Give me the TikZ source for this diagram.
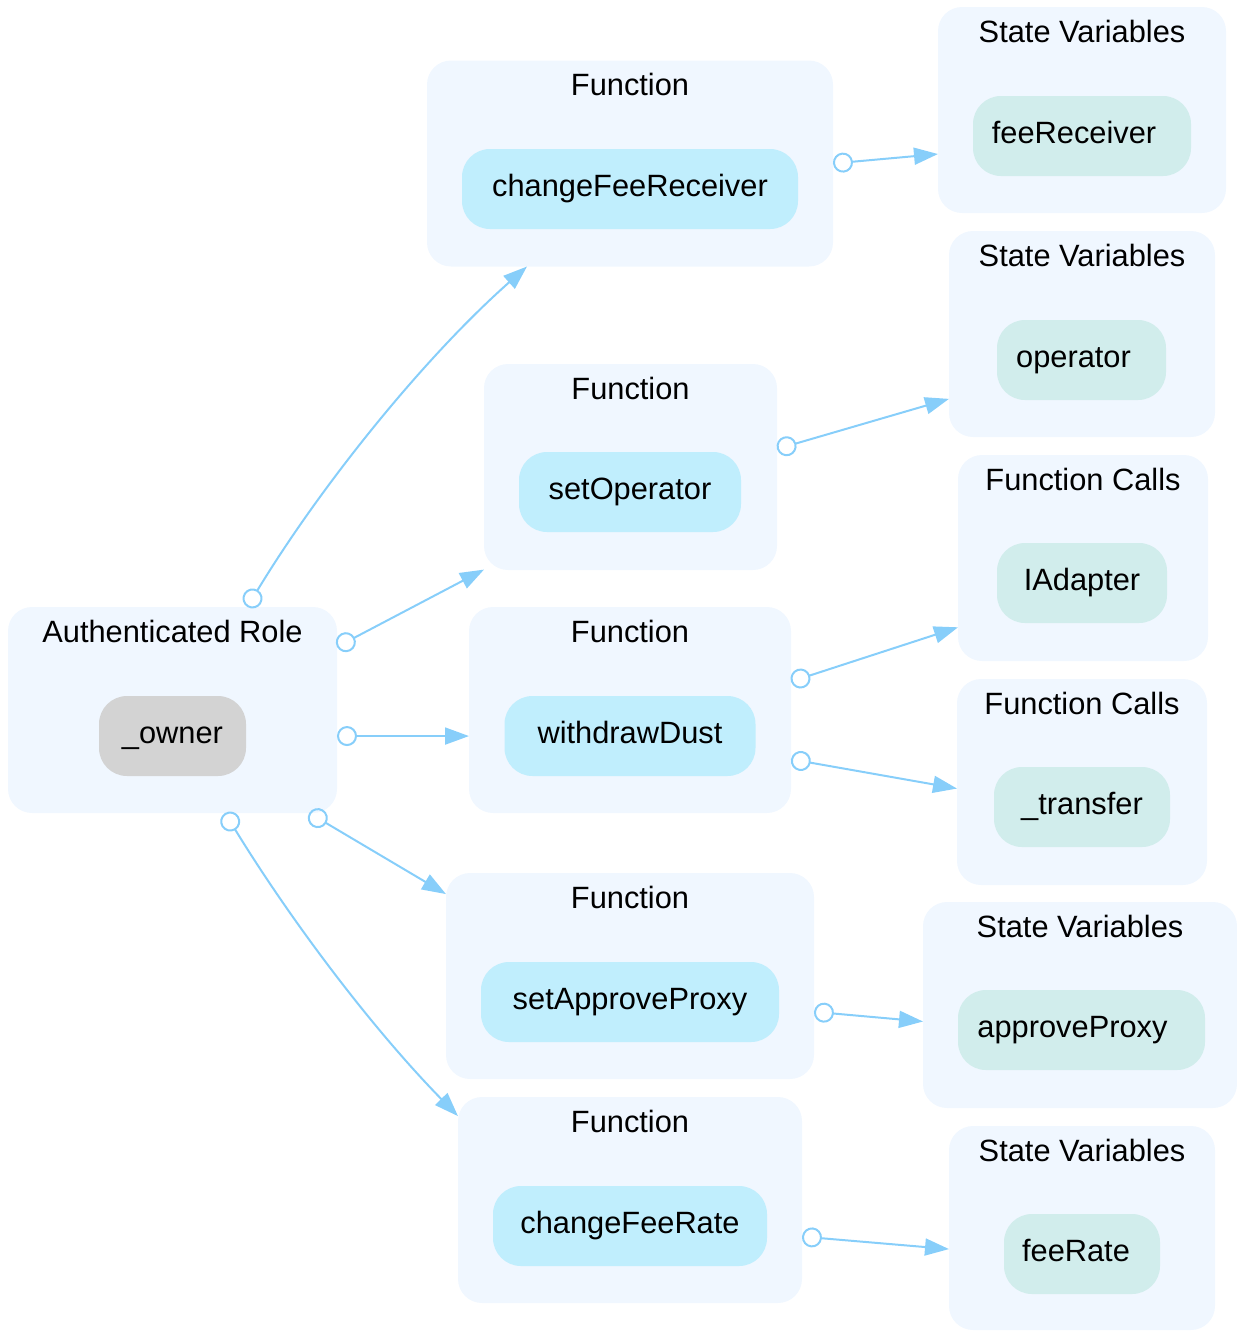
\documentclass[tikz,border=0pt]{standalone}
\usepackage{fontspec}
\setmainfont{Liberation Sans}
\usetikzlibrary{arrows.meta}
\definecolor{clusterbg}{HTML}{F0F7FF}
\definecolor{fnfill}{HTML}{C0EEFD}
\definecolor{varfill}{HTML}{D1EDEC}
\definecolor{ownerfill}{HTML}{D3D3D3}
\definecolor{linkblue}{HTML}{87CEFA}
\tikzstyle{cluster}=[rectangle, rounded corners=24pt, fill=clusterbg, inner sep=0pt, outer sep=0pt, minimum height=206pt]
\tikzstyle{caption}=[anchor=base, inner sep=0pt]
\tikzstyle{member}=[rectangle, rounded corners=28pt, minimum height=80pt, inner sep=0pt, outer sep=0pt, text height=22pt, text depth=7pt]
\tikzstyle{fn}=[member, fill=fnfill]
\tikzstyle{var}=[member, fill=varfill]
\tikzstyle{owner}=[member, fill=ownerfill]
\tikzstyle{link}=[linkblue, line width=2pt, arrows={Circle[open,length=20pt,width=20pt]-Triangle[length=24pt,width=17pt]}]

\begin{document}
\begin{tikzpicture}[x=1pt, y=-1pt, every node/.style={font=\fontsize{30.8}{37}\selectfont}]
    \useasboundingbox (0,0) rectangle (1237,1331);
    % boxes round each group
    \node[cluster, minimum width=329pt] (role) at (172.5,710) {};
    \node[cluster, minimum width=406pt] (fn1) at (630,163.5) {};
    \node[cluster, minimum width=293pt] (fn2) at (630.5,467) {};
    \node[cluster, minimum width=322pt] (fn3) at (630,710) {};
    \node[cluster, minimum width=368pt] (fn4) at (630,976) {};
    \node[cluster, minimum width=344pt] (fn5) at (630,1200) {};
    \node[cluster, minimum width=288pt] (var1) at (1082,110) {};
    \node[cluster, minimum width=266pt] (var2) at (1082,334) {};
    \node[cluster, minimum width=250pt] (call1) at (1083,558) {};
    \node[cluster, minimum width=250pt] (call2) at (1082,782) {};
    \node[cluster, minimum width=314pt] (var3) at (1080,1005) {};
    \node[cluster, minimum width=266pt, minimum height=204pt] (var4) at (1082,1228) {};
    % group captions
    \node[caption] (roleCap) at ([yshift=-35pt]role.north) {Authenticated Role};
    \node[caption] (fn1Cap) at ([yshift=-35pt]fn1.north) {Function};
    \node[caption] (fn2Cap) at ([yshift=-35pt]fn2.north) {Function};
    \node[caption] (fn3Cap) at ([yshift=-35pt]fn3.north) {Function};
    \node[caption] (fn4Cap) at ([yshift=-35pt]fn4.north) {Function};
    \node[caption] (fn5Cap) at ([yshift=-35pt]fn5.north) {Function};
    \node[caption] (var1Cap) at ([yshift=-35pt]var1.north) {State Variables};
    \node[caption] (var2Cap) at ([yshift=-35pt]var2.north) {State Variables};
    \node[caption] (call1Cap) at ([yshift=-35pt]call1.north) {Function Calls};
    \node[caption] (call2Cap) at ([yshift=-35pt]call2.north) {Function Calls};
    \node[caption] (var3Cap) at ([yshift=-35pt]var3.north) {State Variables};
    \node[caption] (var4Cap) at ([yshift=-35pt]var4.north) {State Variables};
    % members
    \node[owner, minimum width=147pt] (owner) at (172.5,736) {\_owner};
    \node[fn, minimum width=336pt] (changeFeeReceiver) at (630,189) {changeFeeReceiver};
    \node[fn, minimum width=222pt] (setOperator) at (630,492) {setOperator};
    \node[fn, minimum width=251pt] (withdrawDust) at (630,736) {withdrawDust};
    \node[fn, minimum width=298pt] (setApproveProxy) at (630,1002) {setApproveProxy};
    \node[fn, minimum width=274pt] (changeFeeRate) at (630,1226) {changeFeeRate};
    \node[var, minimum width=218pt] (feeReceiver) at (1082,136) {feeReceiver\kern16pt};
    \node[var, minimum width=169pt] (operator) at (1081.5,360) {operator\kern16pt};
    \node[var, minimum width=170pt] (IAdapter) at (1082,583) {IAdapter};
    \node[var, minimum width=176pt] (transfer) at (1082,807) {\_transfer};
    \node[var, minimum width=247pt] (approveProxy) at (1081.5,1030) {approveProxy\kern18pt};
    \node[var, minimum width=156pt] (feeRate) at (1082,1254) {feeRate\kern12pt};
    % role to functions
    \draw[link] (role.54.5) .. controls +(72,-119) and +(-105,93) .. (fn1.-135.7);
    \draw[link] (role.21) -- (fn2.-145);
    \draw[link] (role.-9) -- (role.-9 -| fn3.west);
    \draw[link] (role.-37.5) -- (fn4.156.2);
    \draw[link] (role.-63.4) .. controls +(65,106) and +(-88,-90) .. (fn5.154);
    % functions to what they touch
    \draw[link] (fn1.east) -- (var1.-163.7);
    \draw[link] (fn2.7) -- (var2.-154);
    \draw[link] (fn3.10) -- (call1.-151.5);
    \draw[link] (fn3.-17.6) -- (call2.-177.3);
    \draw[link] (fn4.-11.4) -- (var3.-174.2);
    \draw[link] (fn5.-12.1) -- (var4.-171.9);
\end{tikzpicture}
\end{document}
